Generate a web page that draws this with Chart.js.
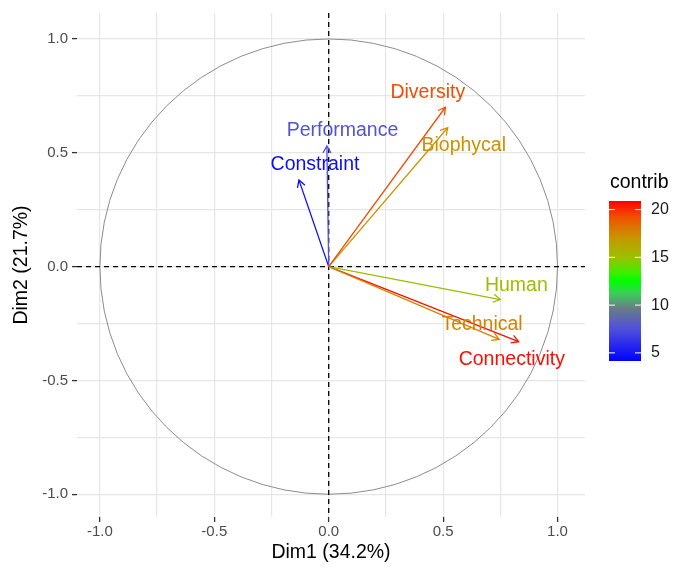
<!DOCTYPE html>
<html>
<head>
<meta charset="utf-8">
<script src="https://cdn.jsdelivr.net/npm/chart.js@4"></script>
<style>
  html, body { margin: 0; padding: 0; background: #fff; }
  #wrap { width: 673px; height: 570px; }
</style>
</head>
<body>
<div id="wrap"><canvas id="pca"></canvas></div>
<script>
// variables of the correlation circle
const variables = ['Diversity', 'Biophycal', 'Performance', 'Constraint', 'Human', 'Technical', 'Connectivity'];
const dim1 = [0.51, 0.52, -0.008, -0.13, 0.75, 0.745, 0.83];
const dim2 = [0.70, 0.61, 0.53, 0.38, -0.145, -0.32, -0.33];
const contrib = [19.3, 17.2, 7.6, 4.7, 15.2, 17.6, 20.6];
// where the (repelled) labels sit, in Dim1/Dim2 units
const labelX = [0.433, 0.59, 0.06, -0.06, 0.82, 0.67, 0.80];
const labelY = [0.763, 0.53, 0.596, 0.447, -0.083, -0.254, -0.41];
const contribTicks = [5, 10, 15, 20];
const contribMin = 4.15, contribMax = 20.9;

// colour scale blue -> green -> red (approximate ggplot gradient2)
const stops = [
  [0, [0, 0, 255]], [0.2, [80, 80, 220]], [0.33, [105, 125, 135]],
  [0.42, [60, 205, 90]], [0.5, [0, 255, 0]], [0.56, [70, 235, 0]],
  [0.64, [150, 195, 0]], [0.77, [200, 150, 0]], [0.9, [240, 80, 0]], [1, [255, 0, 0]]
];
function contribColor(v) {
  let t = (v - contribMin) / (contribMax - contribMin);
  t = Math.max(0, Math.min(1, t));
  for (let i = 1; i < stops.length; i++) {
    if (t <= stops[i][0]) {
      const a = stops[i - 1], b = stops[i];
      const f = (t - a[0]) / (b[0] - a[0]);
      const c = a[1].map((v, k) => Math.round(v + (b[1][k] - v) * f));
      return 'rgb(' + c.join(',') + ')';
    }
  }
  return 'rgb(255,0,0)';
}

const colors = contrib.map(contribColor);
const FONT = '"Liberation Sans", Arial, sans-serif';

const datasets = variables.map((name, i) => ({
  label: name,
  data: [{ x: 0, y: 0 }, { x: dim1[i], y: dim2[i] }],
  showLine: true,
  borderColor: colors[i],
  borderWidth: 1.3,
  pointRadius: 0,
  fill: false
}));

const isMajor = v => Math.abs(v * 2 - Math.round(v * 2)) < 1e-6;

const pcaPlugin = {
  id: 'pcaExtras',
  beforeDatasetsDraw(chart) {
    const { ctx, chartArea, scales: { x, y } } = chart;
    ctx.save();
    // unit circle
    const cx = x.getPixelForValue(0), cy = y.getPixelForValue(0);
    const rx = x.getPixelForValue(1) - cx, ry = cy - y.getPixelForValue(1);
    ctx.strokeStyle = '#8c8c8c';
    ctx.lineWidth = 1;
    ctx.beginPath();
    ctx.ellipse(cx, cy, rx, ry, 0, 0, Math.PI * 2);
    ctx.stroke();
    // dashed axes
    ctx.strokeStyle = '#000';
    ctx.lineWidth = 1.3;
    ctx.setLineDash([5, 4]);
    ctx.beginPath();
    ctx.moveTo(chartArea.left, cy); ctx.lineTo(chartArea.right, cy);
    ctx.moveTo(cx, chartArea.top); ctx.lineTo(cx, chartArea.bottom);
    ctx.stroke();
    ctx.restore();
  },
  afterDatasetsDraw(chart) {
    const { ctx, scales: { x, y } } = chart;
    ctx.save();
    // arrow heads
    variables.forEach((name, i) => {
      const x0 = x.getPixelForValue(0), y0 = y.getPixelForValue(0);
      const x1 = x.getPixelForValue(dim1[i]), y1 = y.getPixelForValue(dim2[i]);
      const ang = Math.atan2(y1 - y0, x1 - x0);
      const len = 8, spread = Math.PI / 6;
      ctx.strokeStyle = colors[i];
      ctx.lineWidth = 1.3;
      ctx.beginPath();
      ctx.moveTo(x1 - len * Math.cos(ang - spread), y1 - len * Math.sin(ang - spread));
      ctx.lineTo(x1, y1);
      ctx.lineTo(x1 - len * Math.cos(ang + spread), y1 - len * Math.sin(ang + spread));
      ctx.stroke();
    });
    // labels
    ctx.font = '19.5px ' + FONT;
    ctx.textAlign = 'center';
    ctx.textBaseline = 'middle';
    variables.forEach((name, i) => {
      ctx.fillStyle = colors[i];
      ctx.fillText(name, x.getPixelForValue(labelX[i]), y.getPixelForValue(labelY[i]));
    });
    ctx.restore();
  },
  afterDraw(chart) {
    const { ctx } = chart;
    // colour bar legend
    const bx = 609, bw = 32, top = 201, bottom = 361;
    ctx.save();
    const grad = ctx.createLinearGradient(0, bottom, 0, top);
    stops.forEach(s => grad.addColorStop(s[0], 'rgb(' + s[1].join(',') + ')'));
    ctx.fillStyle = grad;
    ctx.fillRect(bx, top, bw, bottom - top);
    ctx.font = '19.5px ' + FONT;
    ctx.fillStyle = '#000';
    ctx.textAlign = 'left';
    ctx.textBaseline = 'middle';
    ctx.fillText('contrib', 610, 183);
    ctx.font = '16px ' + FONT;
    contribTicks.forEach(v => {
      const py = bottom - (v - contribMin) / (contribMax - contribMin) * (bottom - top);
      ctx.strokeStyle = '#fff';
      ctx.lineWidth = 1;
      ctx.beginPath();
      ctx.moveTo(bx, py); ctx.lineTo(bx + 6, py);
      ctx.moveTo(bx + bw - 6, py); ctx.lineTo(bx + bw, py);
      ctx.stroke();
      ctx.fillStyle = '#1a1a1a';
      ctx.fillText(String(v), 651, py);
    });
    ctx.restore();
  }
};

function axisOptions(title, min, max, isX) {
  return {
    type: 'linear',
    min: min,
    max: max,
    afterBuildTicks(scale) {
      const t = [];
      for (let v = -1; v <= 1.0001; v += 0.25) t.push({ value: Math.round(v * 100) / 100 });
      scale.ticks = t;
    },
    afterFit(scale) {
      if (isX) scale.height = 53; else scale.width = 77;
    },
    grid: {
      color: '#e6e6e6',
      lineWidth: 1.2,
      drawTicks: true,
      tickLength: 5,
      tickColor: ctx => isMajor(ctx.tick.value) ? '#333' : 'rgba(0,0,0,0)',
      tickWidth: 1.3
    },
    border: { display: false },
    ticks: {
      autoSkip: false,
      maxRotation: 0,
      padding: isX ? 1 : 4,
      color: '#4d4d4d',
      font: { family: FONT, size: 15 },
      callback: v => isMajor(v) ? v.toFixed(1) : ''
    },
    title: {
      display: true,
      text: title,
      color: '#000',
      font: { family: FONT, size: 19.5 },
      padding: isX ? { top: 0, bottom: 6 } : { top: 10, bottom: 0 }
    }
  };
}

new Chart(document.getElementById('pca').getContext('2d'), {
  type: 'scatter',
  data: { datasets: datasets },
  options: {
    responsive: true,
    maintainAspectRatio: false,
    animation: false,
    layout: { padding: { top: 12, right: 88, left: 0, bottom: 0 } },
    plugins: {
      legend: { display: false },
      tooltip: { enabled: false }
    },
    scales: {
      x: axisOptions('Dim1 (34.2%)', -1.1, 1.12, true),
      y: axisOptions('Dim2 (21.7%)', -1.1, 1.114, false)
    }
  },
  plugins: [pcaPlugin]
});
</script>
</body>
</html>
